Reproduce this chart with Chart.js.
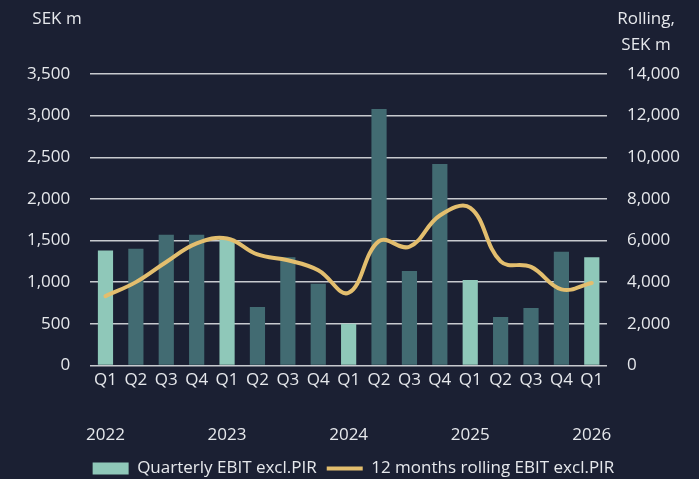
<!DOCTYPE html>
<html>
<head>
<meta charset="utf-8">
<script src="https://cdn.jsdelivr.net/npm/chart.js@4"></script>
<style>
  html, body { margin: 0; padding: 0; background: #1b2033; }
  #wrap { width: 699px; height: 479px; }
</style>
</head>
<body>
<div id="wrap"><canvas id="chart"></canvas></div>
<script>
const quarters = ["Q1","Q2","Q3","Q4","Q1","Q2","Q3","Q4","Q1","Q2","Q3","Q4","Q1","Q2","Q3","Q4","Q1"];
const years = ["2022","","","","2023","","","","2024","","","","2025","","","","2026"];
const quarterlyEbit = [1380,1400,1570,1570,1520,700,1300,980,500,3080,1135,2420,1025,580,690,1365,1300];
const rollingEbit = [3330,4000,4970,5860,6100,5330,5050,4570,3490,5970,5700,7200,7570,5000,4730,3650,3960];
const leftTicks = [0,500,1000,1500,2000,2500,3000,3500];
const rightTicks = [0,2000,4000,6000,8000,10000,12000,14000];

const mint = "#8fc8b9";
const teal = "#426b72";
const gold = "#e3be6e";
const textColor = "#e6e8ec";
const fontFamily = "'Open Sans', sans-serif";

const labels = quarters.map((q, i) => years[i] ? [q, "", years[i]] : [q]);
const barColors = quarters.map(q => q === "Q1" ? mint : teal);

// axis titles in the corners
const axisTitles = {
  id: "axisTitles",
  afterDraw(chart) {
    const ctx = chart.ctx;
    ctx.save();
    ctx.fillStyle = textColor;
    ctx.font = "17px " + fontFamily;
    ctx.textAlign = "center";
    ctx.textBaseline = "middle";
    ctx.fillText("SEK m", 57, 19);
    ctx.fillText("Rolling,", 646, 19);
    ctx.fillText("SEK m", 646, 45);
    ctx.restore();
  }
};

new Chart(document.getElementById("chart"), {
  data: {
    labels: labels,
    datasets: [
      {
        type: "line",
        label: "12 months rolling EBIT excl.PIR",
        data: rollingEbit,
        yAxisID: "y2",
        borderColor: gold,
        backgroundColor: gold,
        borderWidth: 4,
        tension: 0.4,
        pointRadius: 0,
        borderCapStyle: "round",
        order: 0
      },
      {
        type: "bar",
        label: "Quarterly EBIT excl.PIR",
        data: quarterlyEbit,
        yAxisID: "y",
        backgroundColor: barColors,
        categoryPercentage: 1,
        barPercentage: 0.5,
        order: 1
      }
    ]
  },
  options: {
    responsive: true,
    maintainAspectRatio: false,
    animation: false,
    layout: { padding: { top: 74, left: 7, right: -1, bottom: -8 } },
    scales: {
      x: {
        grid: { display: false, drawTicks: false },
        border: { display: false },
        ticks: {
          color: textColor,
          padding: 1,
          maxRotation: 0,
          autoSkip: false,
          font: { family: fontFamily, size: 17, lineHeight: 1.62 }
        }
      },
      y: {
        position: "left",
        min: 0,
        max: 3500,
        afterBuildTicks: axis => { axis.ticks = leftTicks.map(v => ({ value: v })); },
        grid: { color: "#c8cacf", lineWidth: 1.5, drawTicks: false },
        border: { display: false },
        ticks: {
          color: textColor,
          padding: 20,
          font: { family: fontFamily, size: 17 },
          callback: v => v.toLocaleString("en-US")
        }
      },
      y2: {
        position: "right",
        min: 0,
        max: 14000,
        afterBuildTicks: axis => { axis.ticks = rightTicks.map(v => ({ value: v })); },
        grid: { display: false, drawTicks: false },
        border: { display: false },
        ticks: {
          color: textColor,
          padding: 20,
          font: { family: fontFamily, size: 17 },
          callback: v => v.toLocaleString("en-US")
        }
      }
    },
    plugins: {
      tooltip: { enabled: false },
      legend: {
        position: "bottom",
        reverse: true,
        labels: {
          color: textColor,
          font: { family: fontFamily, size: 17 },
          usePointStyle: true,
          pointStyleWidth: 36,
          boxHeight: 12,
          padding: 10,
          generateLabels: chart => {
            const items = Chart.defaults.plugins.legend.labels.generateLabels(chart);
            items.forEach(item => {
              if (item.datasetIndex === 1) {
                item.pointStyle = "rect";
                item.fillStyle = mint;
                item.strokeStyle = mint;
                item.lineWidth = 0;
              } else {
                item.pointStyle = "line";
                item.strokeStyle = gold;
                item.lineWidth = 4;
              }
            });
            return items;
          }
        }
      }
    }
  },
  plugins: [axisTitles]
});
</script>
</body>
</html>
